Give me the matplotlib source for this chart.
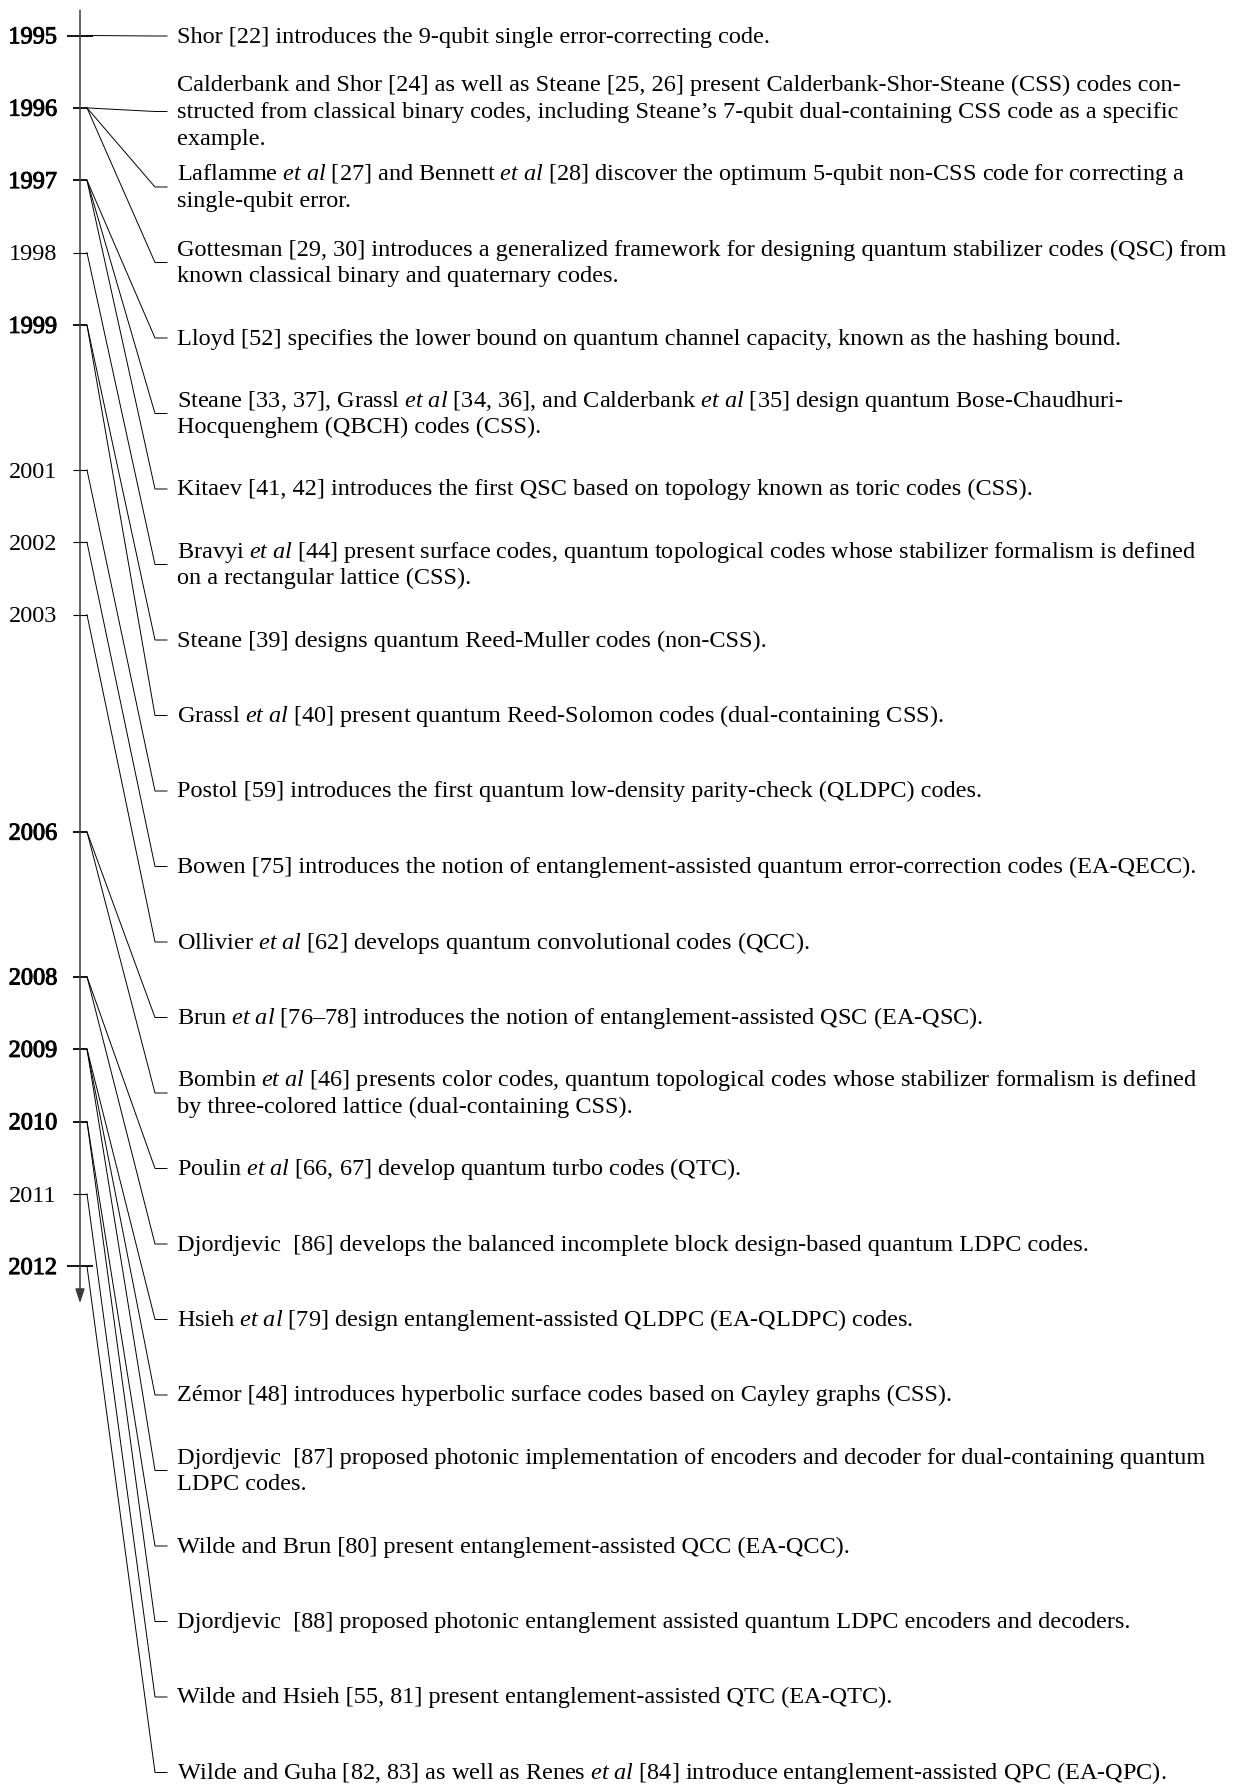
import matplotlib
matplotlib.use("Agg")
import matplotlib.pyplot as plt
import matplotlib.patheffects as pe

# ---------------- data ----------------
event_years = [1995, 1996, 1996, 1996, 1997, 1997, 1997, 1998, 1999, 1999,
               2001, 2002, 2003, 2006, 2006, 2008, 2008, 2009, 2009, 2009,
               2010, 2010, 2011, 2012]

event_texts = [
    ["Shor [22] introduces the 9-qubit single error-correcting code."],
    ["Calderbank and Shor [24] as well as Steane [25, 26] present Calderbank-Shor-Steane (CSS) codes con-",
     "structed from classical binary codes, including Steane\u2019s 7-qubit dual-containing CSS code as a specific",
     "example."],
    ["Laflamme *et al* [27] and Bennett *et al* [28] discover the optimum 5-qubit non-CSS code for correcting a",
     "single-qubit error."],
    ["Gottesman [29, 30] introduces a generalized framework for designing quantum stabilizer codes (QSC) from",
     "known classical binary and quaternary codes."],
    ["Lloyd [52] specifies the lower bound on quantum channel capacity, known as the hashing bound."],
    ["Steane [33, 37], Grassl *et al* [34, 36], and Calderbank *et al* [35] design quantum Bose-Chaudhuri-",
     "Hocquenghem (QBCH) codes (CSS)."],
    ["Kitaev [41, 42] introduces the first QSC based on topology known as toric codes (CSS)."],
    ["Bravyi *et al* [44] present surface codes, quantum topological codes whose stabilizer formalism is defined",
     "on a rectangular lattice (CSS)."],
    ["Steane [39] designs quantum Reed-Muller codes (non-CSS)."],
    ["Grassl *et al* [40] present quantum Reed-Solomon codes (dual-containing CSS)."],
    ["Postol [59] introduces the first quantum low-density parity-check (QLDPC) codes."],
    ["Bowen [75] introduces the notion of entanglement-assisted quantum error-correction codes (EA-QECC)."],
    ["Ollivier *et al* [62] develops quantum convolutional codes (QCC)."],
    ["Brun *et al* [76\u201378] introduces the notion of entanglement-assisted QSC (EA-QSC)."],
    ["Bombin *et al* [46] presents color codes, quantum topological codes whose stabilizer formalism is defined",
     "by three-colored lattice (dual-containing CSS)."],
    ["Poulin *et al* [66, 67] develop quantum turbo codes (QTC)."],
    ["Djordjevic  [86] develops the balanced incomplete block design-based quantum LDPC codes."],
    ["Hsieh *et al* [79] design entanglement-assisted QLDPC (EA-QLDPC) codes."],
    ["Z\u00e9mor [48] introduces hyperbolic surface codes based on Cayley graphs (CSS)."],
    ["Djordjevic  [87] proposed photonic implementation of encoders and decoder for dual-containing quantum",
     "LDPC codes."],
    ["Wilde and Brun [80] present entanglement-assisted QCC (EA-QCC)."],
    ["Djordjevic  [88] proposed photonic entanglement assisted quantum LDPC encoders and decoders."],
    ["Wilde and Hsieh [55, 81] present entanglement-assisted QTC (EA-QTC)."],
    ["Wilde and Guha [82, 83] as well as Renes *et al* [84] introduce entanglement-assisted QPC (EA-QPC)."],
]

tick_years = sorted(set(event_years))

# ---------------- layout / style ----------------
W, H, DPI = 1239, 1784, 100
PX_PER_YEAR = 72.4
YEAR0_PX = 35.5
PX_PER_ROW = 75.5
ROW0_PX = 36.0
AXIS_X = 80
TEXT_X = 177
LINE_PX = 26.5
BODY_FS = 17.5
YEAR_FS = 17.5
heavy_years = {1995, 1996, 1997, 1999, 2006, 2008, 2009, 2010, 2012}

plt.rcParams["font.family"] = ["Liberation Serif", "DejaVu Serif"]
plt.rcParams["mathtext.fontset"] = "custom"
plt.rcParams["mathtext.rm"] = "Liberation Serif"
plt.rcParams["mathtext.it"] = "Liberation Serif:italic"
plt.rcParams["mathtext.bf"] = "Liberation Serif:bold"

fig = plt.figure(figsize=(W / DPI, H / DPI), dpi=DPI)
fig.patch.set_facecolor("white")

# axes in "year" units
ax = fig.add_axes([0, 0, 1, 1])
ax.set_xlim(0, W)
top_year = 1995 - YEAR0_PX / PX_PER_YEAR
ax.set_ylim(top_year + H / PX_PER_YEAR, top_year)
ax.axis("off")

# axes in "row" units (same pixels, other vertical scale)
axr = fig.add_axes([0, 0, 1, 1])
axr.set_xlim(0, W)
top_row = -ROW0_PX / PX_PER_ROW
axr.set_ylim(top_row + H / PX_PER_ROW, top_row)
axr.axis("off")
axr.patch.set_alpha(0)

# timeline axis with arrow
ax.annotate("", xy=(AXIS_X, tick_years[-1] + 0.51), xytext=(AXIS_X, tick_years[0] - 0.35),
            arrowprops=dict(arrowstyle="-|>,head_length=0.85,head_width=0.28",
                            color="#3a3a3a", lw=1.1, shrinkA=0, shrinkB=0))

# ticks and labels
for i, yr in enumerate(tick_years):
    if i == 0 or i == len(tick_years) - 1:
        x0, x1 = AXIS_X - 13, AXIS_X + 13
    else:
        x0, x1 = AXIS_X - 7, AXIS_X + 7
    heavy = yr in heavy_years
    ax.plot([x0, x1], [yr, yr], color="black", lw=1.3 if heavy else 0.8,
            solid_capstyle="butt")
    t = ax.annotate(str(yr), xy=(57, yr), xytext=(0, -5.6), textcoords="offset points",
                    ha="right", va="baseline", fontsize=YEAR_FS, color="black")
    if heavy:
        t.set_path_effects([pe.withStroke(linewidth=0.7, foreground="black")])


def to_math(s):
    parts = s.split("*")
    out = []
    for k, p in enumerate(parts):
        if k % 2 == 1:
            out.append(r"$\mathit{" + p.replace(" ", r"\ ") + "}$")
        else:
            out.append(p)
    return "".join(out)


# connectors and event text
for i, (yr, lines) in enumerate(zip(event_years, event_texts)):
    disp = ax.transData.transform((AXIS_X + 7, yr))
    sx, sy = axr.transData.inverted().transform(disp)
    axr.plot([sx, 155, 167], [sy, i, i], color="black", lw=0.7,
             solid_joinstyle="miter")
    n = len(lines)
    for j, line in enumerate(lines):
        off_px = 6.5 + (j - (n - 1) / 2.0) * LINE_PX
        axr.annotate(to_math(line), xy=(TEXT_X, i), xytext=(0, -off_px * 72 / DPI),
                     textcoords="offset points", ha="left", va="baseline",
                     fontsize=BODY_FS, color="black")

fig.savefig("out.png", dpi=DPI, facecolor="white")
